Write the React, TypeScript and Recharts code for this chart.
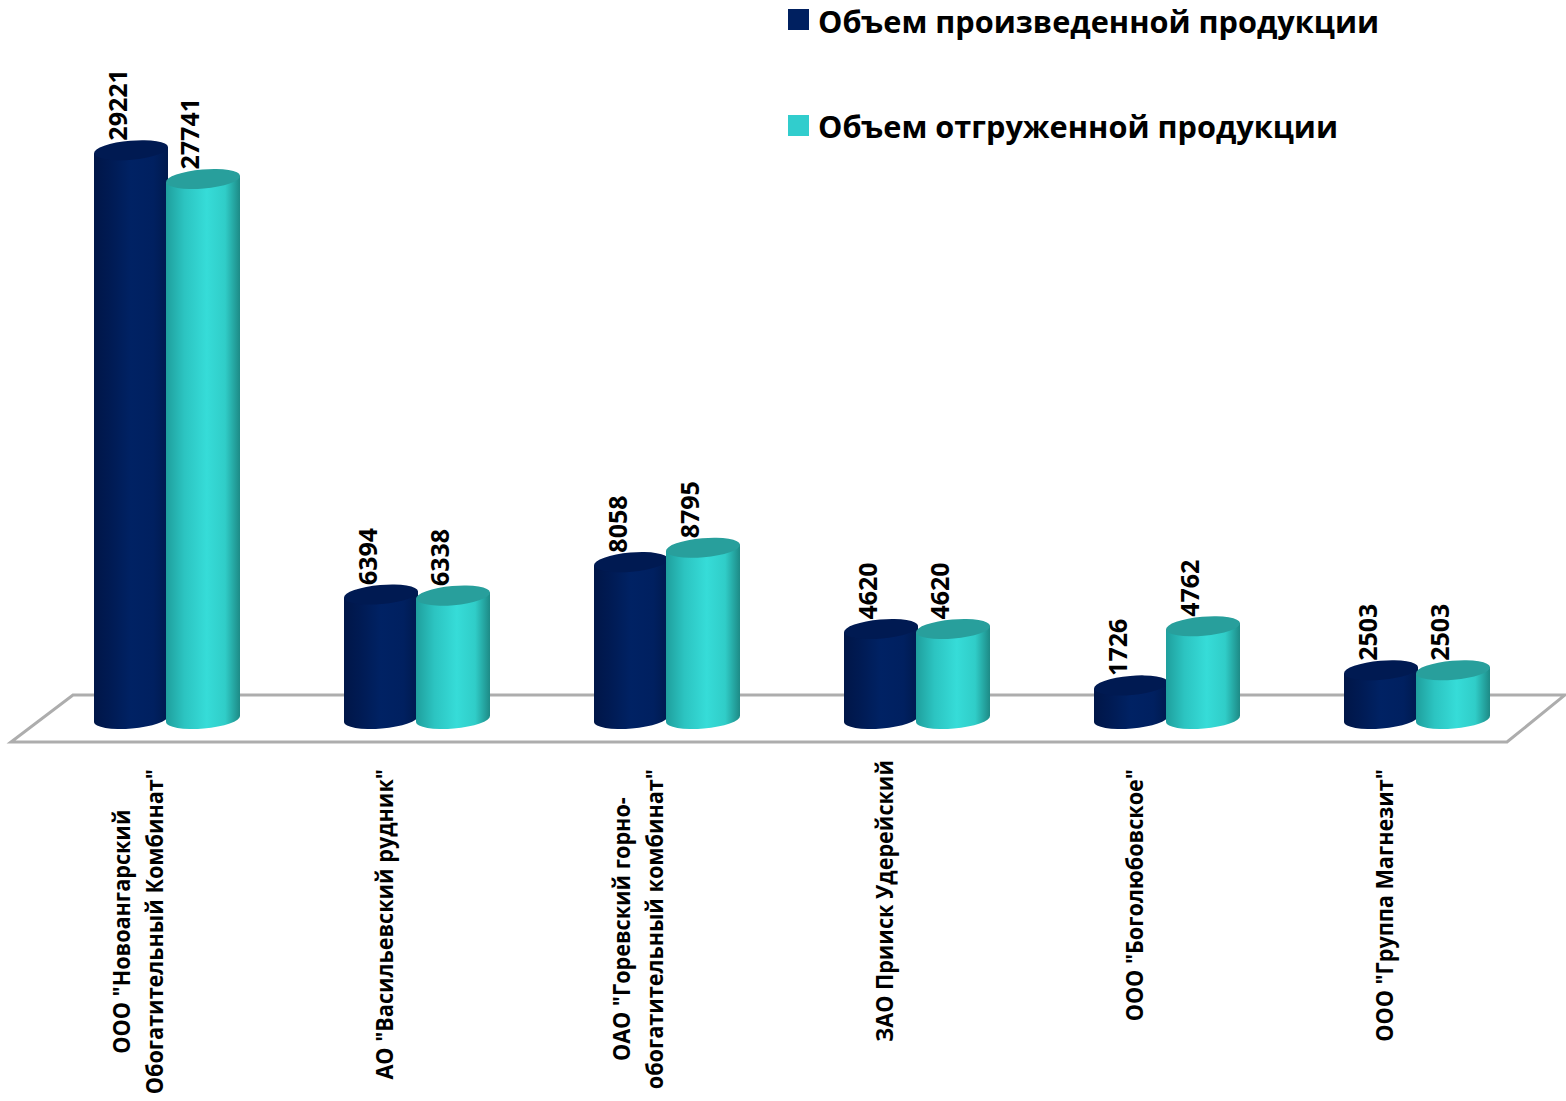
import React from "react";
import { BarChart, Bar, XAxis, YAxis, Legend, LabelList, Customized } from "recharts";

const companyLines: string[][] = [
  ['ООО "Новоангарский', 'Обогатительный Комбинат"'],
  ['АО "Васильевский рудник"'],
  ['ОАО "Горевский горно-', 'обогатительный комбинат"'],
  ['ЗАО Прииск Удерейский'],
  ['ООО "Боголюбовское"'],
  ['ООО "Группа Магнезит"'],
];
const producedValues = [29221, 6394, 8058, 4620, 1726, 2503];
const shippedValues = [27741, 6338, 8795, 4620, 4762, 2503];
const producedName = "Объем произведенной продукции";
const shippedName = "Объем отгруженной продукции";

const chartData = companyLines.map((lines, i) => ({
  name: lines.join("|"),
  produced: producedValues[i],
  shipped: shippedValues[i],
}));

const FONT = '"Open Sans", sans-serif';
const TILT = 5;

function measure(text: string, font: string) {
  const ctx = document.createElement("canvas").getContext("2d")!;
  ctx.font = font;
  return ctx.measureText(text).width;
}

const TICK_SCALE = 0.9;
const TICK_SIZE = 24;
const TICK_TOP = 769;
const TICK_NUDGE: Record<number, number> = { 3: -9 };

function CompanyTick({ x, payload, index }: any) {
  const lines: string[] = String(payload.value).split("|");
  const font = `700 ${TICK_SIZE}px "Open Sans"`;
  const widths = lines.map((l) => measure(l, font) * TICK_SCALE);
  const longest = Math.max(...widths);
  const centerY = TICK_TOP + (TICK_NUDGE[index ?? payload.index] || 0) + longest / 2;
  const xs = lines.length === 2 ? [x - 37, x - 4] : [x - 24];
  return (
    <g>
      {lines.map((l, i) => (
        <text
          key={i}
          transform={`translate(${xs[i]},${centerY}) rotate(-90) scale(${TICK_SCALE},1)`}
          textAnchor="middle"
          fontFamily={FONT}
          fontWeight={700}
          fontSize={TICK_SIZE}
          fill="#000"
        >
          {l}
        </text>
      ))}
    </g>
  );
}

function cylinder(body: string, cap: string) {
  return (props: any) => {
    const { x, y, width, height } = props;
    const rx = width / 2;
    const ry = 9.5;
    const d = rx * Math.sin((TILT * Math.PI) / 180);
    const base = y + height;
    const side = `M${x},${y + d} L${x},${base + d} A${rx},${ry} ${-TILT} 0 0 ${x + width},${base - d} L${x + width},${y - d} Z`;
    const top = `M${x},${y + d} A${rx},${ry} ${-TILT} 1 1 ${x + width},${y - d} A${rx},${ry} ${-TILT} 1 1 ${x},${y + d} Z`;
    return (
      <g>
        <path d={side} fill={`url(#${body})`} />
        <path d={top} fill={cap} />
      </g>
    );
  };
}

function ValueLabel({ x, y, width, value }: any) {
  const cx = x + width / 2 - 4;
  return (
    <text
      transform={`translate(${cx},${y - 9.5}) rotate(-90)`}
      fontFamily={FONT}
      fontWeight={700}
      fontSize={25}
      fill="#000"
    >
      {value}
    </text>
  );
}

function Floor() {
  return (
    <polygon
      points="73,695 1565,695 1507,742 11,742"
      fill="none"
      stroke="#adadad"
      strokeWidth={3}
    />
  );
}

function LegendBox({ payload }: any) {
  return (
    <div style={{ fontFamily: FONT, fontWeight: 700, fontSize: 30.7, lineHeight: "42px", color: "#000" }}>
      {(payload || []).map((p: any, i: number) => (
        <div
          key={p.value}
          style={{ display: "flex", alignItems: "center", height: 42, marginBottom: i === 0 ? 62.5 : 64 }}
        >
          <span
            style={{
              width: 21,
              height: 21,
              background: p.color,
              marginRight: 9,
              display: "inline-block",
              position: "relative",
              top: i === 0 ? -1.5 : 0,
            }}
          />
          <span style={{ whiteSpace: "nowrap" }}>{p.value}</span>
        </div>
      ))}
    </div>
  );
}

const navyShape = cylinder("navyBody", "#001a52");
const tealShape = cylinder("tealBody", "#289f9c");

export default function App() {
  return (
    <div style={{ position: "absolute", left: 0, top: 0, width: 1566, height: 1101, overflow: "hidden", background: "#fff" }}>
      <BarChart
        width={1566}
        height={1101}
        data={chartData}
        margin={{ top: 135, right: 24, bottom: 0, left: 42 }}
        barSize={74}
        barGap={-2}
      >
        <defs>
          <linearGradient id="navyBody" x1="0" y1="0" x2="1" y2="0">
            <stop offset="0" stopColor="#001648" />
            <stop offset="0.2" stopColor="#001a52" />
            <stop offset="0.5" stopColor="#002264" />
            <stop offset="0.8" stopColor="#002060" />
            <stop offset="1" stopColor="#001a4e" />
          </linearGradient>
          <linearGradient id="tealBody" x1="0" y1="0" x2="1" y2="0">
            <stop offset="0" stopColor="#1f9f9d" />
            <stop offset="0.25" stopColor="#2cc4c1" />
            <stop offset="0.55" stopColor="#36dcd8" />
            <stop offset="0.8" stopColor="#30cdc8" />
            <stop offset="1" stopColor="#1d8a86" />
          </linearGradient>
        </defs>
        <Customized component={Floor} />
        <XAxis
          dataKey="name"
          axisLine={false}
          tickLine={false}
          interval={0}
          height={382}
          tick={<CompanyTick />}
        />
        <YAxis hide domain={[0, 30000]} />
        <Legend
          verticalAlign="middle"
          align="center"
          layout="vertical"
          itemSorter={null}
          wrapperStyle={{ position: "absolute", left: 788, top: 0, width: 700 }}
          content={<LegendBox />}
        />
        <Bar dataKey="produced" name={producedName} fill="#002060" shape={navyShape} isAnimationActive={false}>
          <LabelList dataKey="produced" content={<ValueLabel />} />
        </Bar>
        <Bar dataKey="shipped" name={shippedName} fill="#31cdcd" shape={tealShape} isAnimationActive={false}>
          <LabelList dataKey="shipped" content={<ValueLabel />} />
        </Bar>
      </BarChart>
    </div>
  );
}
